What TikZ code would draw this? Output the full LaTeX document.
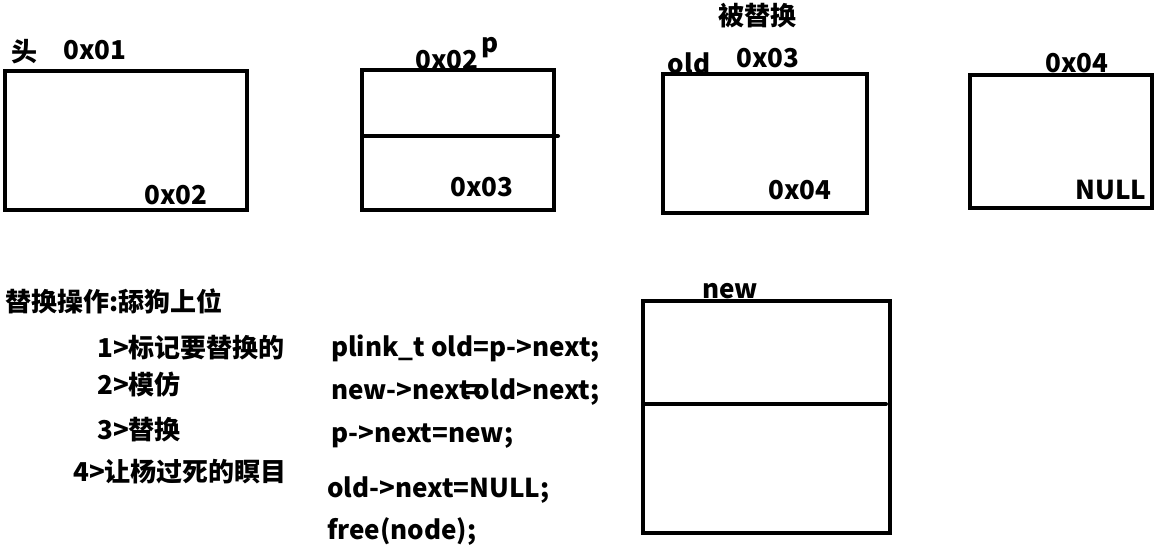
\documentclass[tikz,border=0pt]{standalone}
\usepackage{fontspec}
\setmainfont{Noto Sans CJK SC}
\begin{document}
\begin{tikzpicture}[x=1pt,y=-1pt,
  box/.style={draw=black,line width=4.5pt,inner sep=0pt,outer sep=0pt},
  lbl/.style={inner sep=0pt,font=\fontsize{26}{30}\selectfont\bfseries},
  divider/.style={line width=4pt,line cap=round}]
\useasboundingbox (0,0) rectangle (1158,547);
% boxes
\node[box,minimum width=242pt,minimum height=139pt] (b1) at (126,140.5) {};
\node[box,minimum width=192pt,minimum height=140pt] (b2) at (458,140) {};
\node[box,minimum width=204pt,minimum height=139pt] (b3) at (765,143.5) {};
\node[box,minimum width=182pt,minimum height=133pt] (b4) at (1061,141.5) {};
\node[box,minimum width=247pt,minimum height=232pt] (bn) at (766.5,417) {};
\draw[divider] ([yshift=4pt]b2.west) -- ([xshift=4pt,yshift=4pt]b2.east);
\draw[divider] ([yshift=13pt]bn.west) -- ([xshift=-4pt,yshift=13pt]bn.east);
% labels
\node[lbl] (tou) at (25,52) {头};
\node[lbl] (a1) at (95,50) {0x01};
\node[lbl] (a1n) at (176,195) {0x02};
\node[lbl] (a2) at (447,60) {0x02};
\node[lbl] (pp) at (490,48) {p};
\node[lbl] (a2n) at (482,187) {0x03};
\node[lbl] (rep) at (757,16) {被替换};
\node[lbl] (old) at (689,63) {old};
\node[lbl] (a3) at (768,58) {0x03};
\node[lbl] (a3n) at (800,190) {0x04};
\node[lbl] (a4) at (1077,63) {0x04};
\node[lbl] (a4n) at (1111,190) {NULL};
\node[lbl] (nw) at (730,291) {new};
% steps
\node[lbl,anchor=west] (t0) at (5,301) {替换操作:舔狗上位};
\node[lbl,anchor=west] (t1) at (97,348) {1>标记要替换的};
\node[lbl,anchor=west] (t2) at (97,384) {2>模仿};
\node[lbl,anchor=west] (t3) at (97,430) {3>替换};
\node[lbl,anchor=west] (t4) at (73,472) {4>让杨过死的瞑目};
% code
\node[lbl,anchor=west] (c1) at (331,349) {plink\_t old=p->next;};
\node[lbl,anchor=west] (c2) at (331,392) {new->next\kern-0.2em=\kern-0.3em old>next;};
\node[lbl,anchor=west] (c3) at (331,436) {p->next=new;};
\node[lbl,anchor=west] (c4) at (327,490) {old->next=NULL;};
\node[lbl,anchor=west] (c5) at (327,532) {free(node);};
\end{tikzpicture}
\end{document}
